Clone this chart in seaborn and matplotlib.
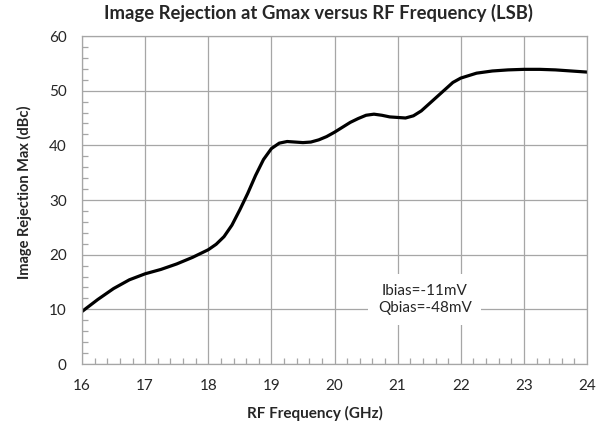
import numpy as np
import matplotlib
matplotlib.use("Agg")
import matplotlib.pyplot as plt
from matplotlib.ticker import MultipleLocator
import pandas as pd
import seaborn as sns

# valeurs
freq = [16.0, 16.25, 16.5, 16.75, 17.0, 17.25, 17.5, 17.75, 18.0, 18.125, 18.25, 18.375,
        18.5, 18.625, 18.75, 18.875, 19.0, 19.125, 19.25, 19.375, 19.5, 19.625, 19.75,
        19.875, 20.0, 20.125, 20.25, 20.375, 20.5, 20.625, 20.75, 20.875, 21.0, 21.125,
        21.25, 21.375, 21.5, 21.625, 21.75, 21.875, 22.0, 22.25, 22.5, 22.75, 23.0,
        23.25, 23.5, 23.75, 24.0]
rejection = [9.6, 11.8, 13.8, 15.4, 16.5, 17.3, 18.3, 19.5, 20.9, 21.9, 23.3, 25.4,
             28.2, 31.2, 34.5, 37.4, 39.4, 40.4, 40.7, 40.6, 40.5, 40.6, 41.0,
             41.6, 42.4, 43.3, 44.2, 44.9, 45.5, 45.7, 45.5, 45.2, 45.1, 45.0,
             45.4, 46.3, 47.6, 48.9, 50.2, 51.5, 52.3, 53.2, 53.6, 53.8, 53.9,
             53.9, 53.8, 53.6, 53.4]

titre = "Image Rejection at Gmax versus RF Frequency (LSB)"
xlabel = "RF Frequency (GHz)"
ylabel = "Image Rejection Max (dBc)"
note = "Ibias=-11mV\nQbias=-48mV"

df = pd.DataFrame({"freq": freq, "rej": rejection})

sns.set_style("white")
plt.rcParams['font.family'] = ['Lato', 'DejaVu Sans']

W, H = 605, 422
fig = plt.figure(figsize=(W / 100, H / 100), dpi=100)
ax = fig.add_axes([82 / W, 1 - 364 / H, 505 / W, 328 / H])

gris = "#a6a6a6"
ax.grid(True, which="major", color=gris, linewidth=0.9)
ax.set_axisbelow(True)

sns.lineplot(data=df, x="freq", y="rej", ax=ax, color="black", linewidth=2.3)

ax.set_xlim(16, 24)
ax.set_ylim(0, 60)
ax.xaxis.set_major_locator(MultipleLocator(1))
ax.xaxis.set_minor_locator(MultipleLocator(0.2))
ax.yaxis.set_major_locator(MultipleLocator(10))
ax.yaxis.set_minor_locator(MultipleLocator(2))
ax.tick_params(which="both", direction="in", color=gris, bottom=True, left=True,
               labelsize=11)
ax.tick_params(which="minor", length=4, width=0.9)
ax.tick_params(which="major", length=0)
ax.tick_params(axis="y", which="major", pad=11)
ax.tick_params(axis="x", which="major", pad=11)
for s in ax.spines.values():
    s.set_color(gris)
    s.set_linewidth(0.9)
ax.set_xlabel("")
ax.set_ylabel("")

# titres places comme dans l'original (decales vers la gauche)
fig.text(318 / W, 1 - 19 / H, titre, ha="center", va="baseline",
         fontsize=13.3, fontweight="bold")
fig.text(315 / W, 1 - 413 / H, xlabel, ha="center", va="center",
         fontsize=11, fontweight="bold")
fig.text(24 / W, 1 - 192 / H, ylabel, ha="center", va="center", rotation=90,
         fontsize=10.5, fontweight="bold")

ax.text(21.43, 11.8, note, ha="center", va="center", fontsize=11, linespacing=1.3,
        bbox=dict(facecolor="white", edgecolor="none", pad=7))

fig.savefig("out.png", dpi=100)
